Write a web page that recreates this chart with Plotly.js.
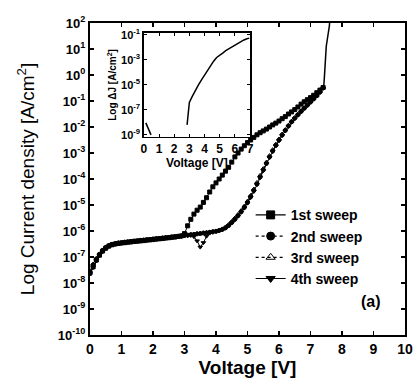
<!DOCTYPE html>
<html><head><meta charset="utf-8">
<script src="https://cdn.plot.ly/plotly-3.0.1.min.js"></script>
<style>html,body{margin:0;padding:0;background:#fff}#chart{width:417px;height:385px}</style>
</head><body><div id="chart"></div>
<script>
// Voltage (V)
var voltage = [0,0.1,0.2,0.3,0.4,0.5,0.6,0.7,0.8,0.9,1.0,1.1,1.2,1.3,1.4,1.5,1.6,1.7,1.8,1.9,2.0,2.1,2.2,2.3,2.4,2.5,2.6,2.7,2.8,2.9,3.0,3.1,3.2,3.3,3.4,3.5,3.6,3.7,3.8,3.9,4.0,4.1,4.2,4.3,4.4,4.5,4.6,4.7,4.8,4.9,5.0,5.1,5.2,5.3,5.4,5.5,5.6,5.7,5.8,5.9,6.0,6.1,6.2,6.3,6.4,6.5,6.6,6.7,6.8,6.9,7.0,7.1,7.2,7.3,7.4];
// log10 of current density (A/cm^2)
var sweep1 = [-7.62,-7.38,-7.12,-6.93,-6.77,-6.66,-6.58,-6.53,-6.50,-6.48,-6.46,-6.45,-6.43,-6.42,-6.40,-6.39,-6.38,-6.37,-6.35,-6.34,-6.33,-6.31,-6.30,-6.29,-6.27,-6.26,-6.24,-6.23,-6.21,-6.19,-6.10,-5.80,-5.55,-5.35,-5.20,-5.08,-4.90,-4.72,-4.50,-4.30,-4.15,-4.00,-3.85,-3.70,-3.55,-3.35,-3.15,-3.00,-2.85,-2.72,-2.60,-2.50,-2.40,-2.30,-2.22,-2.15,-2.08,-2.00,-1.92,-1.85,-1.77,-1.68,-1.60,-1.50,-1.42,-1.33,-1.23,-1.12,-1.03,-0.95,-0.87,-0.78,-0.68,-0.58,-0.48];
var sweep2 = [-7.58,-7.30,-7.08,-6.90,-6.75,-6.63,-6.56,-6.51,-6.49,-6.46,-6.45,-6.43,-6.42,-6.40,-6.39,-6.38,-6.36,-6.35,-6.34,-6.33,-6.31,-6.30,-6.29,-6.27,-6.26,-6.25,-6.23,-6.22,-6.20,-6.19,-6.17,-6.16,-6.14,-6.13,-6.11,-6.10,-6.08,-6.07,-6.05,-6.03,-6.01,-5.98,-5.94,-5.88,-5.79,-5.67,-5.55,-5.41,-5.26,-5.09,-4.90,-4.68,-4.44,-4.19,-3.92,-3.65,-3.40,-3.15,-2.92,-2.70,-2.50,-2.31,-2.13,-1.96,-1.80,-1.66,-1.53,-1.40,-1.28,-1.16,-1.04,-0.92,-0.80,-0.66,-0.50];
var sweep3 = [-7.55,-7.27,-7.05,-6.88,-6.73,-6.62,-6.55,-6.50,-6.47,-6.45,-6.44,-6.42,-6.41,-6.39,-6.38,-6.37,-6.35,-6.34,-6.33,-6.32,-6.30,-6.29,-6.28,-6.26,-6.25,-6.24,-6.22,-6.21,-6.19,-6.18,-6.16,-6.15,-6.13,-6.12,-6.10,-6.09,-6.07,-6.06,-6.04,-6.02,-6.00,-5.97,-5.92,-5.85,-5.75,-5.63,-5.50,-5.36,-5.21,-5.04,-4.85,-4.63,-4.39,-4.13,-3.86,-3.60,-3.35,-3.10,-2.87,-2.66,-2.46,-2.27,-2.10,-1.93,-1.78,-1.64,-1.51,-1.38,-1.26,-1.14,-1.02,-0.90,-0.78,-0.64,-0.49];
var sweep4 = [-7.65,-7.40,-7.15,-6.95,-6.80,-6.68,-6.60,-6.54,-6.51,-6.49,-6.47,-6.46,-6.44,-6.43,-6.41,-6.40,-6.39,-6.37,-6.36,-6.35,-6.34,-6.32,-6.31,-6.30,-6.28,-6.27,-6.25,-6.24,-6.22,-6.21,-6.19,-6.18,-6.17,-6.22,-6.38,-6.62,-6.45,-6.20,-6.08,-6.05,-6.02,-5.99,-5.95,-5.89,-5.80,-5.69,-5.57,-5.43,-5.28,-5.12,-4.93,-4.72,-4.48,-4.22,-3.95,-3.68,-3.42,-3.18,-2.95,-2.73,-2.53,-2.33,-2.15,-1.98,-1.82,-1.68,-1.55,-1.42,-1.29,-1.17,-1.05,-0.93,-0.81,-0.67,-0.51];
// 1st sweep breakdown jump
var breakV = [7.4,7.42,7.44,7.47,7.5,7.55,7.6,7.63];
var breakJ = [-0.48,-0.45,-0.10,0.60,1.10,1.50,1.90,2.40];
// inset: log delta J
var insetV = [0.13,0.3,0.47,null,2.85,2.9,2.95,3.0,3.2,3.4,3.6,3.8,4.0,4.2,4.4,4.6,4.8,5.0,5.2,5.4,5.6,5.8,6.0,6.2,6.4,6.6,6.8,6.95];
var insetJ = [-8.04,-8.55,-9.0,null,-8.2,-7.6,-6.9,-6.4,-5.9,-5.4,-5.0,-4.6,-4.2,-3.9,-3.5,-3.1,-2.8,-2.65,-2.45,-2.25,-2.1,-2.0,-1.8,-1.65,-1.5,-1.4,-1.3,-1.25];
var sweepNames = ['1st sweep','2nd sweep','3rd sweep','4th sweep'];
var mainTickExp = [2,1,0,-1,-2,-3,-4,-5,-6,-7,-8,-9,-10];
var insetTickExp = [-1,-3,-5,-7,-9];

function pw(a){return a.map(function(v){return v===null?null:Math.pow(10,v);});}
var sweeps = [sweep1,sweep2,sweep3,sweep4];
var symbols = ['square','circle','triangle-up-open','triangle-down'];
var dashes = ['solid','dot','dot','solid'];
var traces = [];
sweeps.forEach(function(s,i){
  traces.push({x:voltage,y:pw(s),type:'scatter',mode:'lines+markers',showlegend:false,
    line:{color:'#000',width:1,dash:dashes[i]},
    marker:{symbol:symbols[i],size:4,color:'#000',line:{color:'#000',width:1}}});
});
traces.push({x:breakV,y:pw(breakJ),type:'scatter',mode:'lines',showlegend:false,
  line:{color:'#000',width:1.5}});
sweepNames.forEach(function(n,i){
  traces.push({x:[null],y:[null],type:'scatter',mode:'lines+markers',name:n,
    line:{color:'#000',width:1.2,dash:dashes[i]},
    marker:{symbol:symbols[i],size:8,color:'#000',line:{color:'#000',width:1}}});
});
traces.push({x:insetV,y:pw(insetJ),xaxis:'x2',yaxis:'y2',type:'scatter',mode:'lines',
  showlegend:false,connectgaps:false,line:{color:'#000',width:1.5}});

var F = 'Liberation Sans, Arial, sans-serif';
var layout = {
  width:417,height:385,
  margin:{l:90,r:12,t:23,b:50},
  paper_bgcolor:'#fff',plot_bgcolor:'#fff',
  font:{family:F,color:'#000',size:12},
  showlegend:true,
  legend:{x:0.51,y:0.435,xanchor:'left',yanchor:'top',bgcolor:'rgba(0,0,0,0)',
    font:{size:14,family:F,weight:'bold'},tracegroupgap:0},
  xaxis:{type:'linear',range:[0,10],tickvals:[0,1,2,3,4,5,6,7,8,9,10],
    ticks:'inside',ticklen:4,tickwidth:1.5,tickcolor:'#000',mirror:'allticks',
    showline:true,linecolor:'#000',linewidth:2,showgrid:false,zeroline:false,
    tickfont:{size:14,family:F,weight:'bold'},
    title:{text:'Voltage [V]',font:{size:19,family:F,weight:'bold'},standoff:4}},
  yaxis:{type:'log',range:[-10,2],
    tickvals:mainTickExp.map(function(e){return Math.pow(10,e);}),
    ticktext:mainTickExp.map(function(e){return '10<sup>'+e+'</sup>';}),
    ticks:'inside',ticklen:4,tickwidth:1.5,tickcolor:'#000',mirror:'allticks',
    showline:true,linecolor:'#000',linewidth:2,showgrid:false,zeroline:false,
    tickfont:{size:13,family:F,weight:'bold'},
    title:{text:'Log Current density [A/cm<sup>2</sup>]',font:{size:19,family:F},standoff:18}},
  xaxis2:{domain:[0.171,0.508],anchor:'y2',range:[0,7],tickvals:[0,1,2,3,4,5,6,7],
    ticks:'inside',ticklen:3,tickcolor:'#000',mirror:'allticks',
    showline:true,linecolor:'#000',linewidth:1.5,showgrid:false,zeroline:false,
    tickfont:{size:12,family:F,weight:'bold'},
    title:{text:'Voltage [V]',font:{size:12,family:F,weight:'bold'},standoff:2}},
  yaxis2:{domain:[0.635,0.968],anchor:'x2',type:'log',range:[-9.16,-0.84],
    tickvals:insetTickExp.map(function(e){return Math.pow(10,e);}),
    ticktext:insetTickExp.map(function(e){return '10<sup>'+e+'</sup>';}),
    ticks:'inside',ticklen:3,tickcolor:'#000',mirror:'allticks',
    showline:true,linecolor:'#000',linewidth:1.5,showgrid:false,zeroline:false,
    tickfont:{size:11,family:F,weight:'bold'},
    title:{text:'Log ΔJ [A/cm<sup>2</sup>]',font:{size:10,family:F,weight:'bold'},standoff:2}},
  annotations:[{xref:'paper',yref:'paper',x:0.93,y:0.075,text:'(a)',showarrow:false,
    font:{size:16,family:F,weight:'bold'}}]
};
Plotly.newPlot('chart',traces,layout,{staticPlot:true,displayModeBar:false});
</script></body></html>
